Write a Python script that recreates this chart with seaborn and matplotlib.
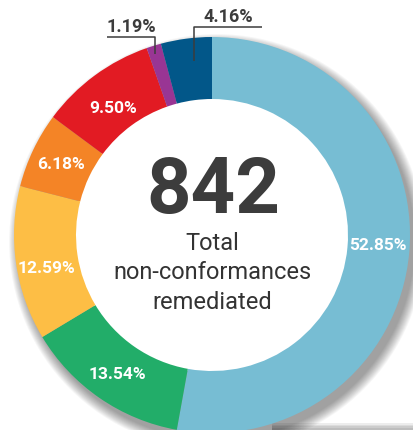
import matplotlib
matplotlib.use("Agg")
import matplotlib.pyplot as plt
from matplotlib.patches import Circle, Rectangle
import numpy as np
import seaborn as sns

# ---- data ----
categories = ["A", "B", "C", "D", "E", "F", "G"]
shares = [52.85, 13.54, 12.59, 6.18, 9.50, 1.19, 4.16]
pct_labels = ["52.85%", "13.54%", "12.59%", "6.18%", "9.50%", "1.19%", "4.16%"]
colors = ["#77BDD3", "#22AD69", "#FDBE45", "#F48426", "#E21B23", "#993594", "#025789"]
total_value = "842"
total_lines = ["Total", "non-conformances", "remediated"]

sns.set_theme(style="white")
plt.rcParams["font.family"] = ["Roboto", "DejaVu Sans"]

W, H = 414, 430
fig = plt.figure(figsize=(W / 100, H / 100), dpi=100)
ax = fig.add_axes([0, 0, 1, 1])

def Y(y):
    return H - y

cx, cy = 212, Y(235)
R_out, R_in = 198, 136
dark = "#3c3c3c"

# soft drop shadow
for i in range(12):
    ax.add_patch(Circle((cx + 5, cy - 7), R_out + i * 0.9, facecolor="#000000",
                        alpha=0.035, edgecolor="none", zorder=0))
ax.add_patch(Circle((cx, cy), R_in + 2, facecolor="white", edgecolor="none", zorder=1))
# page strip at bottom right
for i in range(4):
    ax.add_patch(Rectangle((272, 0), 142, 7 - i * 1.5, facecolor="#000000", alpha=0.07,
                           edgecolor="none", zorder=0))

wedges, _ = ax.pie(shares, colors=colors, startangle=90, counterclock=False,
                   center=(cx, cy), radius=R_out,
                   wedgeprops=dict(width=R_out - R_in, linewidth=0))
for w in wedges:
    w.set_zorder(2)

# small vertical nudges (pixels, downward) for inside labels
nudges = [-4, 2, 9, 1, 8]
cum = np.cumsum([0] + shares[:-1])
r_mid = (R_out + R_in) / 2
for i, (s, lab) in enumerate(zip(shares, pct_labels)):
    if i >= 5:
        continue
    ang = np.deg2rad(90 - (cum[i] + s / 2) * 3.6)
    x = cx + r_mid * np.cos(ang)
    y = cy + r_mid * np.sin(ang) - nudges[i]
    ax.text(x, y, lab, color="white", fontsize=12.5, fontweight="bold",
            ha="center", va="center", zorder=5)

# outside labels with leader lines
ax.plot([107, 155, 155], [Y(37), Y(37), Y(54)], color=dark, lw=1.1, zorder=6,
        solid_capstyle="butt")
ax.text(131, Y(27), pct_labels[5], color=dark, fontsize=13, fontweight="bold",
        ha="center", va="center", zorder=6)
ax.plot([194, 194, 262], [Y(61), Y(27), Y(27)], color=dark, lw=1.1, zorder=6,
        solid_capstyle="butt")
ax.text(228, Y(17), pct_labels[6], color=dark, fontsize=13, fontweight="bold",
        ha="center", va="center", zorder=6)

# centre text
ax.text(cx + 1, Y(213), total_value, color=dark, fontsize=56, fontweight="bold",
        ha="center", va="baseline", zorder=6)
for txt, yb in zip(total_lines, [250, 279, 309]):
    ax.text(cx, Y(yb), txt, color="#333333", fontsize=17, ha="center",
            va="baseline", zorder=6)

ax.set_xlim(0, W)
ax.set_ylim(0, H)
ax.set_aspect("auto")
ax.axis("off")
fig.savefig("out.png", dpi=100, facecolor="white")
